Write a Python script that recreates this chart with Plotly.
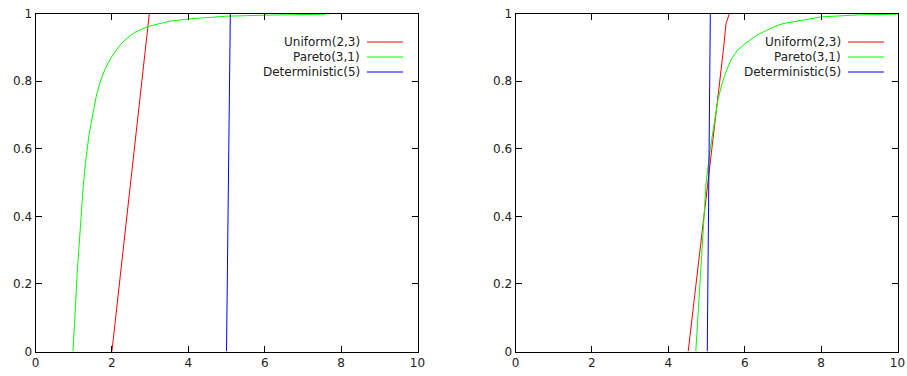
import plotly.graph_objects as go

W, H = 907, 376

# ---- data ----
names = ["Uniform(2,3)", "Pareto(3,1)", "Deterministic(5)"]
colors = ["#ff0000", "#00ff00", "#0000ff"]

# left panel
left_uniform_x = [2.0, 2.98, 10]
left_uniform_y = [0, 1.0, 1.0]
left_pareto_x = [0.98, 1.02, 1.05, 1.09, 1.15, 1.2, 1.25, 1.31, 1.4, 1.48, 1.6, 1.7, 1.8, 1.9,
                 2.0, 2.2, 2.4, 2.6, 2.8, 3.0, 3.5, 4.0, 5.0, 6.0, 7.6]
left_pareto_y = [0, 0.07, 0.14, 0.23, 0.34, 0.42, 0.49, 0.56, 0.64, 0.69, 0.76, 0.80, 0.83, 0.853,
                 0.873, 0.905, 0.928, 0.944, 0.955, 0.963, 0.977, 0.984, 0.992, 0.995, 0.998]
left_det_x = [5.0, 5.1, 10]
left_det_y = [0, 1.0, 1.0]

# right panel
right_uniform_x = [4.52, 5.05, 5.44, 5.51, 5.6, 10]
right_uniform_y = [0, 0.506, 0.89, 0.97, 1.0, 1.0]
right_pareto_x = [4.72, 4.99, 5.1, 5.2, 5.3, 5.4, 5.5, 5.65, 5.8, 6.0, 6.3, 6.75, 7.0, 7.5, 8.0,
                  9.0, 10.0]
right_pareto_y = [0, 0.5, 0.6, 0.68, 0.745, 0.79, 0.825, 0.865, 0.89, 0.91, 0.935, 0.96, 0.97,
                  0.98, 0.99, 0.996, 0.998]
right_det_x = [5.02, 5.1, 10]
right_det_y = [0, 1.0, 1.0]

x_ticks = [0, 2, 4, 6, 8, 10]
y_ticks = [0, 0.2, 0.4, 0.6, 0.8, 1]
y_tick_labels = ["0", "0.2", "0.4", "0.6", "0.8", "1"]

panels = [
    ("x", "y", [(left_uniform_x, left_uniform_y), (left_pareto_x, left_pareto_y), (left_det_x, left_det_y)]),
    ("x2", "y2", [(right_uniform_x, right_uniform_y), (right_pareto_x, right_pareto_y), (right_det_x, right_det_y)]),
]

fig = go.Figure()
for xa, ya, series in panels:
    for (xs, ys), c, n in zip(series, colors, names):
        fig.add_trace(go.Scatter(x=xs, y=ys, mode="lines", name=n, xaxis=xa, yaxis=ya,
                                 line=dict(color=c, width=1),
                                 showlegend=False, hoverinfo="skip"))

def px_x(p):
    return p / W

def px_y(p):
    return 1 - p / H

y_dom = [px_y(351.5), px_y(13.5)]
axis_common = dict(showgrid=False, zeroline=False, showline=True, mirror="allticks",
                   linecolor="#000000", linewidth=1, ticks="inside", ticklen=6,
                   tickcolor="#000000", tickwidth=1, automargin=False,
                   ticklabeloverflow="allow",
                   tickfont=dict(family="DejaVu Sans", size=12, color="#222222"))

fig.update_layout(
    template="none",
    width=W, height=H,
    margin=dict(l=0, r=0, t=0, b=0, pad=0),
    paper_bgcolor="white", plot_bgcolor="white",
    xaxis=dict(domain=[px_x(35.5), px_x(417.5)], range=[0, 10], tickvals=x_ticks,
               anchor="y", **axis_common),
    yaxis=dict(domain=y_dom, range=[0, 1], tickvals=y_ticks, ticktext=y_tick_labels,
               anchor="x", **axis_common),
    xaxis2=dict(domain=[px_x(515.5), px_x(897.5)], range=[0, 10], tickvals=x_ticks,
                anchor="y2", **axis_common),
    yaxis2=dict(domain=y_dom, range=[0, 1], tickvals=y_ticks, ticktext=y_tick_labels,
                anchor="x2", **axis_common),
)

# gnuplot-style key: text right-aligned, line sample to its right
key_rows_y = [42, 57, 72]
keys = [(362, 367, 403), (843, 848, 884)]
for text_right, line_start, line_end in keys:
    for n, c, yy in zip(names, colors, key_rows_y):
        fig.add_annotation(x=px_x(text_right), y=px_y(yy), xref="paper", yref="paper",
                           text=n, showarrow=False, xanchor="right", yanchor="middle",
                           font=dict(family="DejaVu Sans", size=12, color="#222222"))
        fig.add_shape(type="line", xref="paper", yref="paper",
                      x0=px_x(line_start), x1=px_x(line_end), y0=px_y(yy), y1=px_y(yy),
                      line=dict(color=c, width=1))

fig.write_html("out.html", config={"displayModeBar": False, "staticPlot": True},
               post_script="document.body.style.margin='0';document.body.style.overflow='hidden';")
